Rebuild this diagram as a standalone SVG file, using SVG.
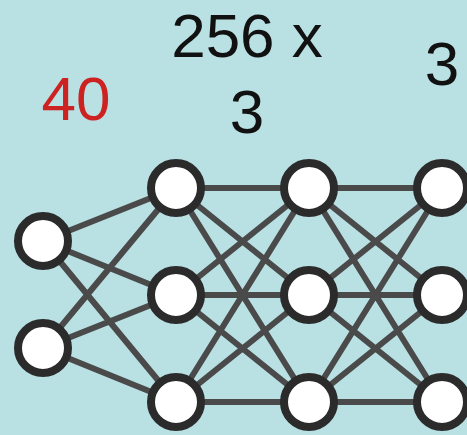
<svg xmlns="http://www.w3.org/2000/svg" width="467" height="435" viewBox="0 0 467 435">
<style>
.e{stroke:#4a4a4a;stroke-width:6;fill:none}
.n{fill:#ffffff;stroke:#2b2b2b;stroke-width:8}
.t{font-family:"Liberation Sans",Arial,sans-serif;font-size:62px;fill:#111;text-anchor:middle}
</style>
<rect width="467" height="435" fill="#b9e0e3"/>
<g id="connectors">
<path class="e" d="M43,241L176,188M43,241L176,295M43,241L176,402M43,348L176,188M43,348L176,295M43,348L176,402"/>
<path class="e" d="M176,188L309,188M176,188L309,295M176,188L309,402M176,295L309,188M176,295L309,295M176,295L309,402M176,402L309,188M176,402L309,295M176,402L309,402"/>
<path class="e" d="M309,188L442,188M309,188L442,295M309,188L442,402M309,295L442,188M309,295L442,295M309,295L442,402M309,402L442,188M309,402L442,295M309,402L442,402"/>
</g>
<g id="in1"><circle class="n" cx="43" cy="241" r="25"/></g>
<g id="in2"><circle class="n" cx="43" cy="348" r="25"/></g>
<g id="h1"><circle class="n" cx="176" cy="188" r="25"/></g>
<g id="h2"><circle class="n" cx="176" cy="295" r="25"/></g>
<g id="h3"><circle class="n" cx="176" cy="402" r="25"/></g>
<g id="h4"><circle class="n" cx="309" cy="188" r="25"/></g>
<g id="h5"><circle class="n" cx="309" cy="295" r="25"/></g>
<g id="h6"><circle class="n" cx="309" cy="402" r="25"/></g>
<g id="o1"><circle class="n" cx="442" cy="188" r="25"/></g>
<g id="o2"><circle class="n" cx="442" cy="295" r="25"/></g>
<g id="o3"><circle class="n" cx="442" cy="402" r="25"/></g>
<text class="t" x="76" y="120" style="fill:#cc2222">40</text>
<text class="t" x="247" y="57">256 x</text>
<text class="t" x="247" y="133">3</text>
<text class="t" x="442" y="85">3</text>
</svg>
